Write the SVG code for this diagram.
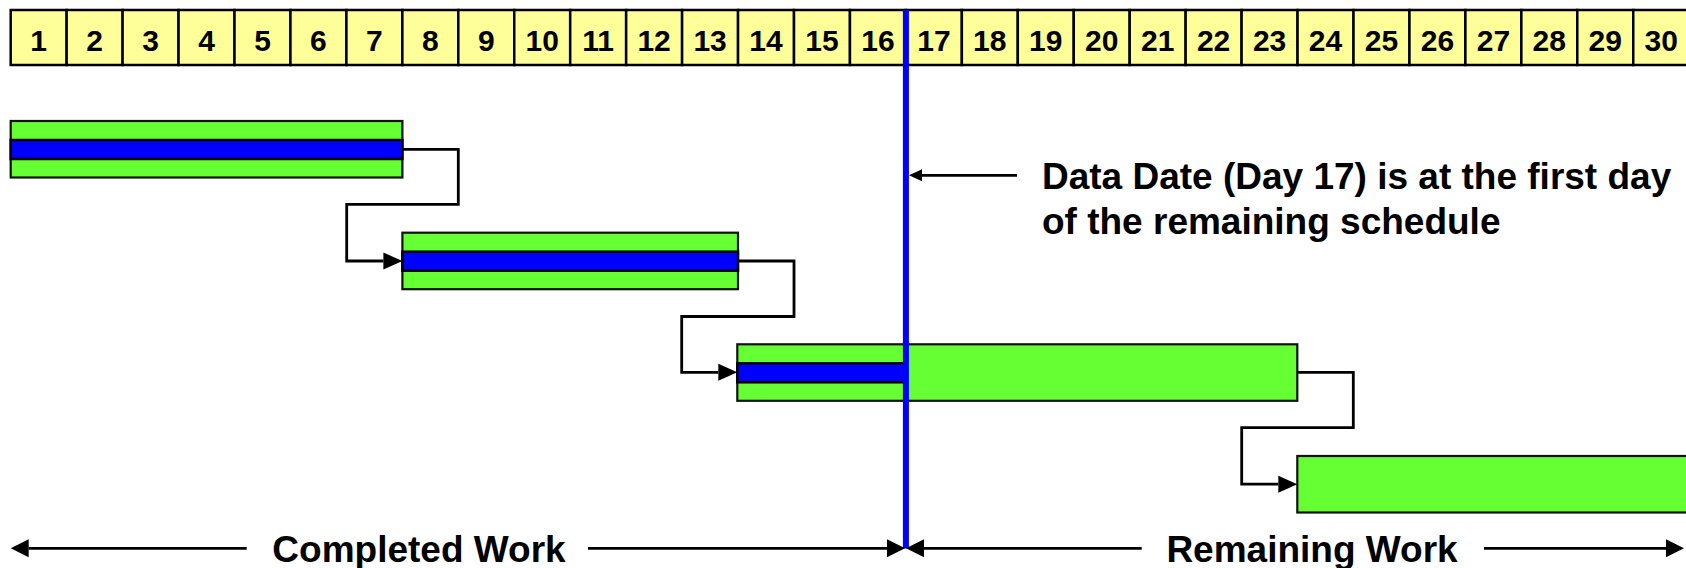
<svg xmlns="http://www.w3.org/2000/svg" width="1686" height="568" viewBox="0 0 1686 568">
  <defs>
    <style>
      .cell { fill: #FFFF99; stroke: #000; stroke-width: 2.5; }
      .day { font-family: "Liberation Sans", Arial, Helvetica, sans-serif; font-weight: bold; font-size: 30px; fill: #000; text-anchor: middle; }
      .bar { fill: #66FF33; stroke: #111; stroke-width: 2.2; }
      .prog { fill: #0000FF; stroke: #000; stroke-width: 2.5; }
      .link { fill: none; stroke: #000; stroke-width: 2.8; stroke-linejoin: miter; }
      .span { fill: none; stroke: #000; stroke-width: 2.8; }
      .label { font-family: "Liberation Sans", Arial, Helvetica, sans-serif; font-weight: bold; font-size: 37px; fill: #000; }
    </style>
    <marker id="linkHead" markerUnits="userSpaceOnUse" markerWidth="19" markerHeight="17" refX="0" refY="8.5" orient="auto" overflow="visible">
      <path d="M0,0 L19,8.5 L0,17 Z" fill="#000"/>
    </marker>
    <marker id="spanHead" markerUnits="userSpaceOnUse" markerWidth="18" markerHeight="18" refX="0" refY="9" orient="auto" overflow="visible">
      <path d="M0,0 L18,9 L0,18 Z" fill="#000"/>
    </marker>
    <marker id="noteHead" markerUnits="userSpaceOnUse" markerWidth="13" markerHeight="12" refX="0" refY="6" orient="auto" overflow="visible">
      <path d="M0,0 L13,6 L0,12 Z" fill="#000"/>
    </marker>
  </defs>

  <rect width="1686" height="568" fill="#fff"/>

  <!-- Timescale: days 1..30 -->
  <g id="timescale">
    <rect class="cell" x="10.7" y="10" width="55.95" height="55"/>
    <rect class="cell" x="66.65" y="10" width="55.95" height="55"/>
    <rect class="cell" x="122.6" y="10" width="55.95" height="55"/>
    <rect class="cell" x="178.55" y="10" width="55.95" height="55"/>
    <rect class="cell" x="234.5" y="10" width="55.95" height="55"/>
    <rect class="cell" x="290.45" y="10" width="55.95" height="55"/>
    <rect class="cell" x="346.4" y="10" width="55.95" height="55"/>
    <rect class="cell" x="402.35" y="10" width="55.95" height="55"/>
    <rect class="cell" x="458.3" y="10" width="55.95" height="55"/>
    <rect class="cell" x="514.25" y="10" width="55.95" height="55"/>
    <rect class="cell" x="570.2" y="10" width="55.95" height="55"/>
    <rect class="cell" x="626.15" y="10" width="55.95" height="55"/>
    <rect class="cell" x="682.1" y="10" width="55.95" height="55"/>
    <rect class="cell" x="738.05" y="10" width="55.95" height="55"/>
    <rect class="cell" x="794" y="10" width="55.95" height="55"/>
    <rect class="cell" x="849.95" y="10" width="55.95" height="55"/>
    <rect class="cell" x="905.9" y="10" width="55.95" height="55"/>
    <rect class="cell" x="961.85" y="10" width="55.95" height="55"/>
    <rect class="cell" x="1017.8" y="10" width="55.95" height="55"/>
    <rect class="cell" x="1073.75" y="10" width="55.95" height="55"/>
    <rect class="cell" x="1129.7" y="10" width="55.95" height="55"/>
    <rect class="cell" x="1185.65" y="10" width="55.95" height="55"/>
    <rect class="cell" x="1241.6" y="10" width="55.95" height="55"/>
    <rect class="cell" x="1297.55" y="10" width="55.95" height="55"/>
    <rect class="cell" x="1353.5" y="10" width="55.95" height="55"/>
    <rect class="cell" x="1409.45" y="10" width="55.95" height="55"/>
    <rect class="cell" x="1465.4" y="10" width="55.95" height="55"/>
    <rect class="cell" x="1521.35" y="10" width="55.95" height="55"/>
    <rect class="cell" x="1577.3" y="10" width="55.95" height="55"/>
    <rect class="cell" x="1633.25" y="10" width="55.95" height="55"/>
    <text class="day" x="38.7" y="50.5">1</text>
    <text class="day" x="94.6" y="50.5">2</text>
    <text class="day" x="150.6" y="50.5">3</text>
    <text class="day" x="206.5" y="50.5">4</text>
    <text class="day" x="262.5" y="50.5">5</text>
    <text class="day" x="318.4" y="50.5">6</text>
    <text class="day" x="374.4" y="50.5">7</text>
    <text class="day" x="430.3" y="50.5">8</text>
    <text class="day" x="486.3" y="50.5">9</text>
    <text class="day" x="542.2" y="50.5">10</text>
    <text class="day" x="598.2" y="50.5">11</text>
    <text class="day" x="654.1" y="50.5">12</text>
    <text class="day" x="710.1" y="50.5">13</text>
    <text class="day" x="766" y="50.5">14</text>
    <text class="day" x="822" y="50.5">15</text>
    <text class="day" x="877.9" y="50.5">16</text>
    <text class="day" x="933.9" y="50.5">17</text>
    <text class="day" x="989.8" y="50.5">18</text>
    <text class="day" x="1045.8" y="50.5">19</text>
    <text class="day" x="1101.7" y="50.5">20</text>
    <text class="day" x="1157.7" y="50.5">21</text>
    <text class="day" x="1213.6" y="50.5">22</text>
    <text class="day" x="1269.6" y="50.5">23</text>
    <text class="day" x="1325.5" y="50.5">24</text>
    <text class="day" x="1381.5" y="50.5">25</text>
    <text class="day" x="1437.4" y="50.5">26</text>
    <text class="day" x="1493.4" y="50.5">27</text>
    <text class="day" x="1549.3" y="50.5">28</text>
    <text class="day" x="1605.3" y="50.5">29</text>
    <text class="day" x="1661.2" y="50.5">30</text>
  </g>

  <!-- Task bars (green = planned, blue = completed progress) -->
  <g id="task1">
    <rect class="bar" x="10.7" y="121" width="391.7" height="56.5"/>
    <rect class="prog" x="10.7" y="140" width="391.7" height="19"/>
  </g>
  <g id="task2">
    <rect class="bar" x="402.4" y="232.7" width="335.6" height="56.5"/>
    <rect class="prog" x="402.4" y="251.7" width="335.6" height="19"/>
  </g>
  <g id="task3">
    <rect class="bar" x="737.3" y="344.3" width="560" height="56.5"/>
    <rect class="prog" x="737.3" y="363.3" width="168.4" height="19"/>
  </g>
  <g id="task4">
    <rect class="bar" x="1297.3" y="456" width="420" height="56.5"/>
  </g>

  <!-- Finish-to-start links -->
  <g id="connectors">
    <path class="link" d="M402.4,149.3 H458.3 V204.3 H346.7 V261 H383.4" marker-end="url(#linkHead)"/>
    <path class="link" d="M738,261 H794 V316.5 H681.7 V372.3 H718.3" marker-end="url(#linkHead)"/>
    <path class="link" d="M1297.3,372.3 H1353.3 V427.7 H1241.7 V484.2 H1278.3" marker-end="url(#linkHead)"/>
  </g>

  <!-- Data date line -->
  <g id="data-date">
    <rect x="902.9" y="10" width="6" height="538.5" fill="#0000FF"/>
  </g>

  <!-- Data date note -->
  <g id="data-date-note">
    <path class="span" d="M1017,175.3 H922" marker-end="url(#noteHead)"/>
    <text class="label" x="1042" y="188.5">Data Date (Day 17) is at the first day</text>
    <text class="label" x="1042" y="233.5">of the remaining schedule</text>
  </g>

  <!-- Completed / remaining spans -->
  <g id="completed-work">
    <path class="span" d="M246.7,548.3 H28.7" marker-end="url(#spanHead)"/>
    <path class="span" d="M588,548.3 H887" marker-end="url(#spanHead)"/>
    <text class="label" x="419" y="561.5" text-anchor="middle">Completed Work</text>
  </g>
  <g id="remaining-work">
    <path class="span" d="M1141.7,548.3 H924" marker-end="url(#spanHead)"/>
    <path class="span" d="M1484,548.3 H1666" marker-end="url(#spanHead)"/>
    <text class="label" x="1312" y="561.5" text-anchor="middle">Remaining Work</text>
  </g>
</svg>
